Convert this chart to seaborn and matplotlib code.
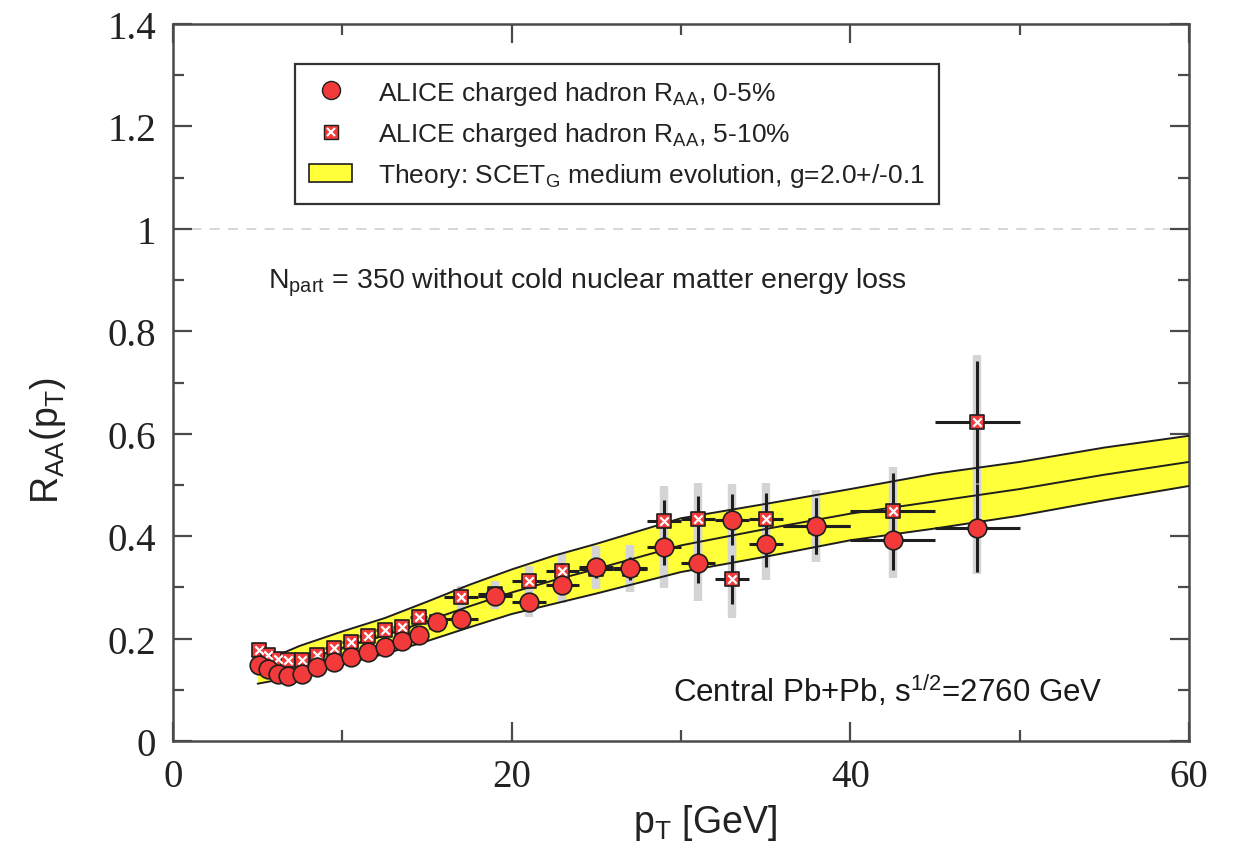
import numpy as np
import pandas as pd
import matplotlib
matplotlib.use("Agg")
import matplotlib.pyplot as plt
import seaborn as sns
from matplotlib.lines import Line2D
from matplotlib.patches import Patch
from matplotlib.ticker import MultipleLocator, FuncFormatter

# ALICE charged hadron R_AA, bin centres and half-widths [GeV]
pt = [5.1, 5.6, 6.2, 6.8, 7.6, 8.5, 9.5, 10.5, 11.5, 12.5, 13.5, 14.5, 15.6,
      17, 19, 21, 23, 25, 27, 29, 31, 33, 35, 38, 42.5, 47.5]
pt_err = [0.2, 0.25, 0.3, 0.3, 0.4, 0.5, 0.5, 0.5, 0.5, 0.5, 0.5, 0.5, 0.6,
          1, 1, 1, 1, 1, 1, 1, 1, 1, 1, 2, 2.5, 2.5]

# 0-5% centrality
raa_0_5 = [0.148, 0.140, 0.130, 0.127, 0.131, 0.145, 0.154, 0.164, 0.174, 0.184,
           0.195, 0.207, 0.232, 0.238, 0.283, 0.272, 0.305, 0.340, 0.338, 0.378,
           0.348, 0.432, 0.385, 0.420, 0.393, 0.416]
stat_0_5 = [0.004] * 12 + [0.006, 0.008, 0.010, 0.013, 0.016, 0.018, 0.022, 0.035,
                           0.040, 0.050, 0.045, 0.055, 0.060, 0.085]
sys_0_5 = [0.010] * 12 + [0.018, 0.022, 0.025, 0.030, 0.035, 0.040, 0.045, 0.080,
                          0.075, 0.070, 0.070, 0.070, 0.075, 0.090]

# 5-10% centrality
raa_5_10 = [0.178, 0.168, 0.160, 0.158, 0.158, 0.168, 0.181, 0.193, 0.205, 0.216,
            0.222, 0.242, 0.232, 0.281, 0.287, 0.312, 0.332, 0.336, 0.336, 0.430,
            0.434, 0.316, 0.434, 0.420, 0.449, 0.623]
stat_5_10 = [0.004] * 12 + [0.006, 0.008, 0.010, 0.013, 0.016, 0.018, 0.022, 0.040,
                            0.045, 0.048, 0.050, 0.055, 0.075, 0.120]
sys_5_10 = [0.010] * 12 + [0.018, 0.022, 0.025, 0.030, 0.035, 0.040, 0.045, 0.068,
                           0.070, 0.075, 0.070, 0.070, 0.087, 0.130]

# SCET_G theory band, g = 2.0 +/- 0.1
theory_pt = [5, 6, 7.5, 10, 12.5, 15, 17.5, 20, 22.5, 25, 30, 35, 40, 45, 50, 55, 60]
theory_hi = [0.155, 0.165, 0.186, 0.214, 0.240, 0.272, 0.305, 0.335, 0.362, 0.385,
             0.435, 0.463, 0.492, 0.522, 0.545, 0.573, 0.596]
theory_mid = [0.133, 0.140, 0.156, 0.182, 0.206, 0.234, 0.263, 0.290, 0.314, 0.336,
              0.382, 0.414, 0.444, 0.468, 0.492, 0.520, 0.545]
theory_lo = [0.112, 0.118, 0.128, 0.150, 0.170, 0.195, 0.222, 0.248, 0.268, 0.288,
             0.330, 0.360, 0.392, 0.415, 0.440, 0.470, 0.498]

sns.set_theme(style="ticks")
plt.rcParams["font.family"] = ["Liberation Sans", "DejaVu Sans"]
plt.rcParams["mathtext.fontset"] = "custom"
plt.rcParams["mathtext.rm"] = "Liberation Sans"
plt.rcParams["mathtext.it"] = "Liberation Sans:italic"

red = "#f23a3a"
ink = "#1e1e1e"

fig = plt.figure(figsize=(12.33, 8.54), dpi=100)
ax = fig.add_axes([0.1403, 0.1311, 0.8240, 0.8396])

ax.axhline(1.0, color="#cfcfcf", lw=1.2, ls=(0, (6, 5)), zorder=0)

# theory band
ax.fill_between(theory_pt, theory_lo, theory_hi, color="#ffff3a", lw=0, zorder=1)

# systematic uncertainties
ax.vlines(pt, np.subtract(raa_0_5, sys_0_5), np.add(raa_0_5, sys_0_5),
          color="#d4d4d4", lw=6, zorder=2)
ax.vlines(pt, np.subtract(raa_5_10, sys_5_10), np.add(raa_5_10, sys_5_10),
          color="#d4d4d4", lw=6, zorder=2)

theory = pd.DataFrame({"pt": theory_pt * 3,
                       "raa": theory_hi + theory_mid + theory_lo,
                       "curve": ["hi"] * len(theory_pt) + ["mid"] * len(theory_pt)
                                + ["lo"] * len(theory_pt)})
sns.lineplot(data=theory, x="pt", y="raa", units="curve", estimator=None,
             color=ink, lw=1.4, ax=ax, zorder=3, legend=False)

# statistical uncertainties
ax.errorbar(pt, raa_0_5, yerr=stat_0_5, xerr=pt_err, fmt="none",
            ecolor=ink, elinewidth=2.2, capsize=0, zorder=4)
ax.errorbar(pt, raa_5_10, yerr=stat_5_10, xerr=pt_err, fmt="none",
            ecolor=ink, elinewidth=2.2, capsize=0, zorder=4)

pts = pd.DataFrame({"pt": pt, "c05": raa_0_5, "c510": raa_5_10})
sns.scatterplot(data=pts, x="pt", y="c510", marker="s", s=115, color=red,
                edgecolor=ink, linewidth=1.2, ax=ax, zorder=5)
sns.scatterplot(data=pts, x="pt", y="c510", marker="x", s=36, color="white",
                linewidth=1.6, ax=ax, zorder=6)
sns.scatterplot(data=pts, x="pt", y="c05", marker="o", s=180, color=red,
                edgecolor=ink, linewidth=1.2, ax=ax, zorder=7)

ax.set_xlim(0, 60)
ax.set_ylim(0, 1.4)
ax.xaxis.set_major_locator(MultipleLocator(20))
ax.xaxis.set_minor_locator(MultipleLocator(10))
ax.yaxis.set_major_locator(MultipleLocator(0.2))
ax.yaxis.set_minor_locator(MultipleLocator(0.1))
fmt = FuncFormatter(lambda v, _: f"{v:g}")
ax.xaxis.set_major_formatter(fmt)
ax.yaxis.set_major_formatter(fmt)

for sp in ax.spines.values():
    sp.set_linewidth(1.8)
    sp.set_color("#4a4a4a")
ax.tick_params(which="both", direction="in", top=True, right=True,
               color="#4a4a4a", width=1.6)
ax.tick_params(which="major", length=14, pad=12)
ax.tick_params(which="minor", length=8)
for lab in ax.get_xticklabels() + ax.get_yticklabels():
    lab.set_fontfamily("Liberation Serif")
    lab.set_fontsize(28)
    lab.set_color("#222222")

ax.set_xlabel(r"p$_\mathrm{T}$ [GeV]", fontsize=27, color="#222222")
ax.set_ylabel(r"R$_\mathrm{AA}$(p$_\mathrm{T}$)", fontsize=27, color="#222222")
ax.xaxis.set_label_coords(0.524, -0.085)
ax.yaxis.set_label_coords(-0.103, 0.42)

ax.text(0.094, 0.641, r"N$_\mathrm{part}$ = 350 without cold nuclear matter energy loss",
        transform=ax.transAxes, fontsize=20.5, va="center", ha="left", color="#222222")
ax.text(29.5, 0.10, r"Central Pb+Pb, s$^\mathrm{1/2}$=2760 GeV",
        fontsize=22.5, va="center", ha="left", color="#1a1a1a", fontweight="medium")

h_c05 = Line2D([], [], ls="none", marker="o", ms=13, mfc=red, mec=ink, mew=1.0)
h_sq = Line2D([], [], ls="none", marker="s", ms=10, mfc=red, mec=ink, mew=1.0)
h_x = Line2D([], [], ls="none", marker="x", ms=5.5, mec="white", mew=1.5)
h_band = Patch(facecolor="#ffff3a", edgecolor=ink, lw=1.2)
leg = ax.legend([h_c05, (h_sq, h_x), h_band],
                [r"ALICE charged hadron R$_\mathrm{AA}$, 0-5%",
                 r"ALICE charged hadron R$_\mathrm{AA}$, 5-10%",
                 r"Theory: SCET$_\mathrm{G}$ medium evolution, g=2.0+/-0.1"],
                loc="upper left", bbox_to_anchor=(0.12, 0.944), borderaxespad=0,
                fontsize=19, frameon=True, fancybox=False, framealpha=1,
                edgecolor="#333333", handlelength=1.6, handletextpad=1.0,
                borderpad=0.55, labelspacing=0.5)
leg.get_frame().set_linewidth(1.6)
for t in leg.get_texts():
    t.set_color("#222222")

fig.savefig("out.png", dpi=100)
